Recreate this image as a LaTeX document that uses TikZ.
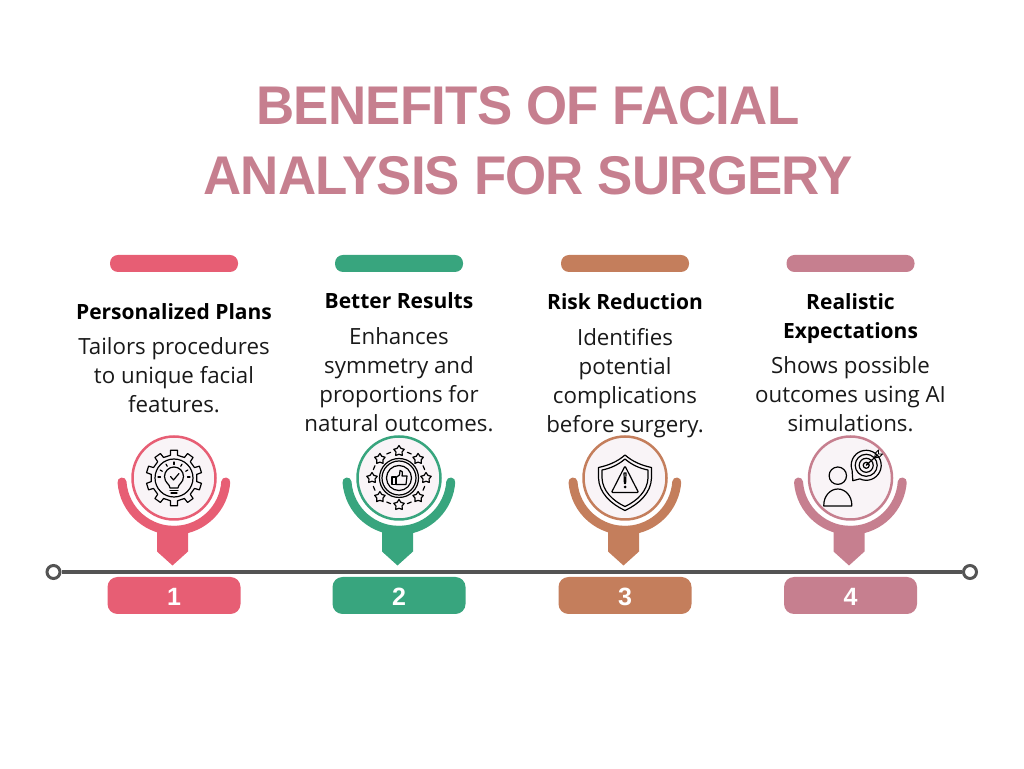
\documentclass[tikz,border=0pt]{standalone}
\usepackage{fontspec}
\setmainfont{Open Sans}
\newfontfamily\titlefont[FakeStretch=0.97,LetterSpace=-1.5]{Liberation Sans}
\newfontfamily\numfont{Liberation Sans}
\usetikzlibrary{shapes.geometric}
\definecolor{planred}{HTML}{E75E74}
\definecolor{resultgreen}{HTML}{38A57E}
\definecolor{riskbrown}{HTML}{C47E5C}
\definecolor{hopemauve}{HTML}{C67F8F}
\definecolor{linegrey}{HTML}{545454}
\definecolor{iconfill}{HTML}{F9F4F7}
\tikzset{
    headtext/.style={font=\fontsize{21}{29}\selectfont\bfseries,text=black,align=center,inner sep=0pt},
    bodytext/.style={font=\fontsize{22.3}{29}\selectfont,text=black!90,align=center,inner sep=0pt},
    iconline/.style={black,line width=1.2pt,line join=round,line cap=round},
    enddot/.style={circle,draw=linegrey,fill=white,line width=3pt,inner sep=0pt,minimum size=13pt},
}

\begin{document}
\begin{tikzpicture}[x=1pt,y=1pt]
        \useasboundingbox (0,0) rectangle (1024,768);

        % Title
        \node[font=\titlefont\fontsize{54.5}{70}\selectfont\bfseries,text=hopemauve,align=center,inner sep=0pt] (title) at (528, 627) {BENEFITS OF FACIAL\\ANALYSIS FOR SURGERY};

        % Timeline
        \node[enddot] (startdot) at (53.5, 196) {};
        \node[enddot] (stopdot) at (970, 196) {};
        \draw[linegrey,line width=3.5pt] (startdot) -- (stopdot);

        % Columns
        \foreach \cx/\tint/\n in {174/planred/1, 399/resultgreen/2, 625/riskbrown/3, 850.5/hopemauve/4} {
            \begin{scope}[shift={(\cx,0)}]
                % Top bar
                \fill[\tint,rounded corners=8pt] (-64, 496) rectangle (64, 513);
                % Holder
                \draw[\tint,line width=9pt,line cap=round] (-52, 286) arc[start angle=184,end angle=356,radius=52];
                \fill[\tint] (-17, 242) -- (-17, 216.5) -- (-1.5, 202.5) -- (14, 216.5) -- (14, 242) -- cycle;
                % Icon disc
                \node[circle,draw=\tint,fill=iconfill,line width=2.5pt,inner sep=0pt,minimum size=83pt] (disc\n) at (0, 290) {};
                % Number
                \fill[\tint,rounded corners=10pt] (-66.5, 154) rectangle (66.5, 191);
                \node[font=\numfont\fontsize{25}{25}\selectfont\bfseries,text=white,inner sep=0pt] (num\n) at (0, 171.5) {\n};
            \end{scope}
        }

        % Texts
        \node[headtext] (head1) at (174, 456) {Personalized Plans};
        \node[bodytext] (body1) at (174, 393) {Tailors procedures\\to unique facial\\features.};
        \node[headtext] (head2) at (399, 467) {Better Results};
        \node[bodytext] (body2) at (399, 388.5) {Enhances\\symmetry and\\proportions for\\natural outcomes.};
        \node[headtext] (head3) at (625, 466) {Risk Reduction};
        \node[bodytext] (body3) at (625, 385) {Identifies\\potential\\complications\\before surgery.};
        \node[headtext] (head4) at (850.5, 449) {Realistic\\Expectations};
        \node[bodytext] (body4) at (850.5, 374) {Shows possible\\outcomes using AI\\simulations.};

        % Gear and bulb
        \begin{scope}[shift={(174,290)},iconline]
            \draw (9:23) \foreach \a in {0,36,...,324} {
                -- ({\a+9}:23) -- ({\a+11}:28) -- ({\a+25}:28) -- ({\a+27}:23)
            } -- cycle;
            \draw (0,0) circle[radius=19];
            \draw (-4,-10) .. controls (-4,-6) and (-9.5,-5) .. (-9.5,1.5) arc[start angle=180,end angle=0,radius=9.5] .. controls (9.5,-5) and (4,-6) .. (4,-10) -- cycle;
            \draw (-4,-12.5) -- (4,-12.5);
            \draw (-3,-15) -- (3,-15);
            \draw (-3.5,1.5) -- (-0.5,-2) -- (5,4.5);
            \foreach \a in {30,60,90,120,150} {
                \draw (\a:13.5) -- (\a:16);
            }
            \draw (-16,1) -- (-13.5,1);
            \draw (13.5,1) -- (16,1);
        \end{scope}

        % Stars and thumb
        \begin{scope}[shift={(399,290)},iconline]
            \foreach \a in {0,45,...,315} {
                \node[star,star points=5,star point ratio=1.7,draw=black,line width=1.2pt,inner sep=0pt,minimum size=11pt] (star\a) at (\a:27) {};
                \draw ({\a+18}:27) arc[start angle={\a+18},end angle={\a+27},radius=27];
            }
            \draw (0,0) circle[radius=19.5];
            \draw (0,0) circle[radius=17];
            \draw (0,0) circle[radius=12.5];
            \draw (-7,-6.5) rectangle (-3,1);
            \draw (-3,0.5) -- (0.5,3) -- (1,7.5) .. controls (3,8) and (4,6) .. (3,2) -- (8,2) -- (7,-6.5) -- (-3,-6.5);
        \end{scope}

        % Shield
        \begin{scope}[shift={(625,290)},iconline]
            \draw (0,23) .. controls (8,16) and (17,12.5) .. (26.5,10.5) -- (26.5,0) .. controls (26,-15) and (14,-26) .. (0,-32.5) .. controls (-14,-26) and (-26,-15) .. (-26.5,0) -- (-26.5,10.5) .. controls (-17,12.5) and (-8,16) .. (0,23) -- cycle;
            \draw (0,19) .. controls (7,13) and (15,9.5) .. (23,8) -- (23,0) .. controls (22.5,-13) and (12,-23) .. (0,-28.5) .. controls (-12,-23) and (-22.5,-13) .. (-23,0) -- (-23,8) .. controls (-15,9.5) and (-7,13) .. (0,19) -- cycle;
            \draw[rounded corners=1pt] (0,12) -- (-13.5,-14.5) -- (13.5,-14.5) -- cycle;
            \draw (-1,5) -- (1,5) -- (0.6,-5.5) -- (-0.6,-5.5) -- cycle;
            \fill (0,-9) circle[radius=1.5];
        \end{scope}

        % Person and target
        \begin{scope}[shift={(850.5,290)},iconline]
            \draw (-12.7,2.3) circle[radius=8.7];
            \draw (-26.7,-28) -- (-26.7,-27) arc[start angle=180,end angle=0,x radius=14,y radius=16] -- (1.3,-28) -- cycle;
            \draw (15.7,12.7) ++(245:15) arc[start angle=245,end angle=560,radius=15] -- (2.3,-2.7) -- cycle;
            \draw (15.7,12.7) circle[radius=11];
            \draw (15.7,12.7) circle[radius=7];
            \draw (15.7,12.7) circle[radius=3];
            \draw (15.7,12.7) -- (27,23);
            \fill (15.7,12.7) -- (19,13.5) -- (16.5,16) -- cycle;
            \draw[line width=0.9pt] (24,20) -- (25,25) -- (28,28) -- (28,24) -- (32,24) -- (29,21) -- cycle;
        \end{scope}
\end{tikzpicture}
\end{document}
